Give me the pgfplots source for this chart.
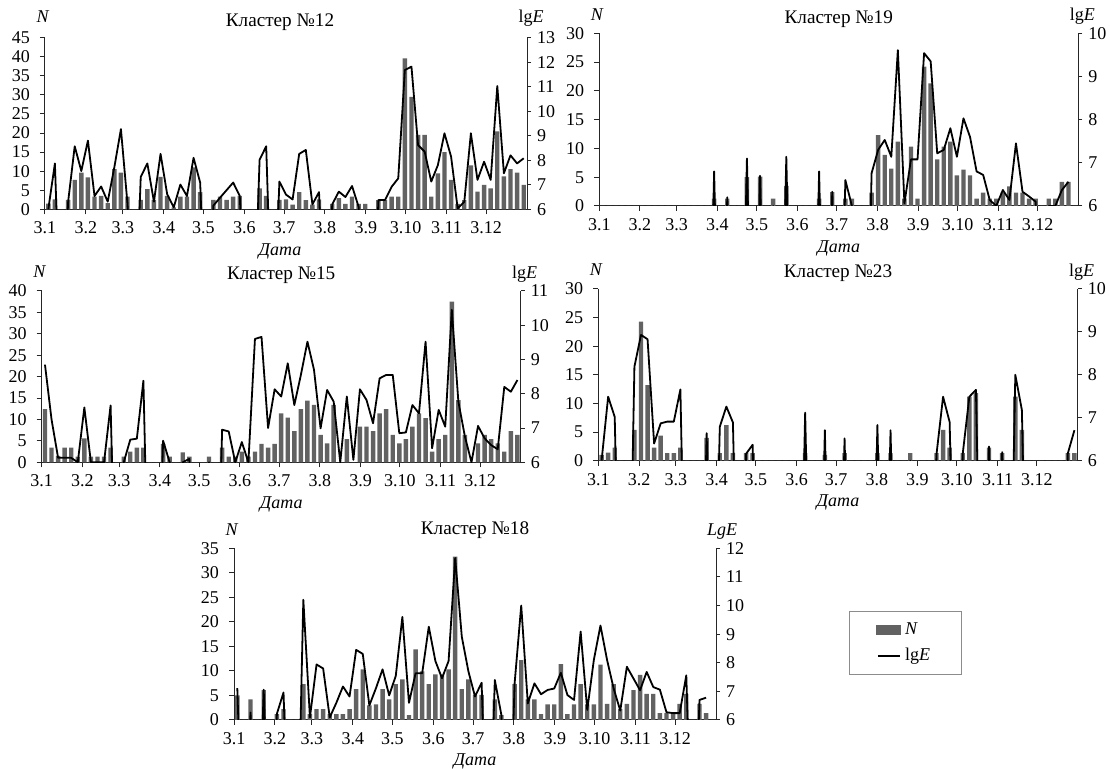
\documentclass[border=0pt]{standalone}
\usepackage{fontspec}
\setmainfont{Liberation Serif}
\usepackage{pgfplots}
\usepackage{pgfplotstable}
\pgfplotsset{compat=1.18}

\definecolor{barc}{RGB}{98,98,98}
\newcommand{\tk}{\fontsize{9}{10.8}\selectfont}
\newcommand{\tf}{\fontsize{9.6}{11}\selectfont}

% j = pentad index (5 days), N = number of events, E = lgE (0 = no events)
\pgfplotstableread{
j N E
0 1.5 6.0
1 2.6 7.87
2 0 0
3 2.5 6.3
4 7.7 8.57
5 9.6 7.56
6 8.4 8.8
7 3.3 6.54
8 3.5 6.93
9 1.6 6.31
10 10.5 7.71
11 9.6 9.27
12 3.3 6.2
13 0 0
14 2.5 7.32
15 5.3 7.87
16 2.5 6.31
17 8.5 8.26
18 3.5 6.62
19 0.5 6.08
20 3.3 7.01
21 3.3 6.54
22 11 8.1
23 4.5 7.09
24 0 0
25 2.5 6.15
26 3.3 6.47
27 2.5 6.78
28 3.3 7.09
29 3.5 6.54
30 0 0
31 0 0
32 5.5 8.02
33 3.5 8.57
34 0 0
35 2.5 7.13
36 2.6 6.6
37 1.2 6.4
38 4.5 8.26
39 2.4 8.42
40 1.2 6.2
41 2.6 6.7
42 0 0
43 1.4 6.2
44 2.9 6.72
45 1.4 6.5
46 3.3 6.95
47 1.4 6.1
48 1.4 0
49 0 0
50 2.4 6.38
51 2.4 6.38
52 3.3 6.92
53 3.3 7.26
54 39.6 11.68
55 29.5 11.82
56 19.5 8.62
57 19.5 8.35
58 3.3 7.13
59 9.4 7.8
60 15 9.1
61 7.7 8.15
62 1.4 6.04
63 2.4 6.3
64 11.5 9.1
65 4.6 7.2
66 6.4 7.94
67 5.5 7.2
68 20.4 11.03
69 8.6 7.47
70 10.5 8.2
71 9.6 7.87
72 6.4 8.08
}\tA

\pgfplotstableread{
j N E
0 0 0
1 0 0
2 0 0
3 0 0
4 0 0
5 0 0
6 0 0
7 0 0
8 0 0
9 0 0
10 0 0
11 0 0
12 0 0
13 0 0
14 0 0
15 0 0
16 0 0
17 1.3 6.8
18 0 0
19 1.3 6.2
20 0 0
21 0 0
22 5 7.1
23 0 0
24 5.1 6.7
25 0 0
26 1.3 6.0
27 0 0
28 3.5 7.14
29 0 0
30 0 0
31 0 0
32 0 0
33 1.3 6.8
34 0 0
35 2.4 6.33
36 0 0
37 1.3 6.6
38 1.3 6.0
39 0 0
40 0 0
41 2.3 6.76
42 12.3 7.3
43 8.9 7.53
44 6.5 7.14
45 11.2 9.61
46 1.3 6.06
47 10.3 7.08
48 1.3 7.08
49 24.2 9.54
50 21.3 9.35
51 8.1 7.22
52 10.3 7.3
53 11.2 7.8
54 5.3 7.14
55 6.3 8.03
56 5.3 7.6
57 1.3 6.8
58 2.3 6.72
59 1.3 6.14
60 1.3 6.0
61 2.3 6.37
62 3.4 6.14
63 2.3 7.45
64 2.3 6.33
65 1.3 6.22
66 1.3 6.1
67 0 0
68 1.3 6.0
69 1.3 6.0
70 4.2 6.37
71 4.2 6.56
72 0 nan
}\tB

\pgfplotstableread{
j N E
0 12.4 8.85
1 3.4 7.25
2 1.5 6.13
3 3.4 6.13
4 3.4 6.13
5 1.3 6.0
6 5.6 7.6
7 1.3 6.0
8 1.3 6.0
9 1.3 6.0
10 3.4 7.66
11 0 0
12 1.3 6.0
13 2.5 6.66
14 3.4 6.69
15 3.4 8.38
16 0 0
17 0 0
18 4.3 6.63
19 1.3 6.0
20 0 0
21 2.3 6.0
22 1.3 6.1
23 0 0
24 0 0
25 1.3 6.0
26 0 0
27 3.4 6.95
28 1.3 6.9
29 1.3 6.0
30 2.5 6.59
31 1.3 6.0
32 2.5 9.6
33 4.3 9.66
34 3.4 7.0
35 4.3 8.13
36 11.4 7.92
37 10.4 8.89
38 7.3 7.67
39 12.4 8.55
40 14.4 9.52
41 13.4 8.7
42 6.4 6.99
43 4.4 8.11
44 13.4 7.77
45 0 6.0
46 5.4 7.92
47 0 6.07
48 8.3 8.13
49 8.3 7.82
50 7.3 7.14
51 11.4 8.45
52 12.4 8.55
53 6.4 8.55
54 4.4 6.85
55 5.4 6.87
56 8.3 7.67
57 11.4 7.43
58 10.3 9.52
59 2.5 6.41
60 5.4 7.53
61 6.4 7.04
62 37.5 10.45
63 14.5 7.77
64 6.4 6.75
65 0 6.0
66 4.4 7.06
67 6.4 6.7
68 5.4 6.5
69 4.4 6.38
70 2.5 8.2
71 7.3 8.06
72 6.4 8.4
}\tC

\pgfplotstableread{
j N E
0 1.0 6.0
1 1.4 7.49
2 2.3 7.02
3 0 0
4 0 0
5 5.4 8.19
6 24.3 8.93
7 13.2 8.83
8 2.3 6.4
9 4.4 6.87
10 1.3 6.91
11 1.3 6.91
12 2.3 7.66
13 0 0
14 0 0
15 0 0
16 4.0 6.64
17 0 0
18 1.3 6.79
19 6.2 7.26
20 1.3 6.89
21 0 0
22 1.3 6.16
23 1.3 6.37
24 0 0
25 0 0
26 0 0
27 0 0
28 0 0
29 0 0
30 0 0
31 1.3 7.12
32 0 0
33 0 0
34 1.0 6.71
35 0 0
36 0 0
37 1.3 6.52
38 0 0
39 0 0
40 0 0
41 0 0
42 1.3 6.83
43 0 0
44 1.3 6.71
45 0 0
46 0 0
47 1.3 6.0
48 0 0
49 0 0
50 0 0
51 1.3 6.15
52 5.4 7.49
53 2.3 6.9
54 0 0
55 1.3 6.17
56 11.2 7.49
57 11.8 7.65
58 0 0
59 2.3 6.33
60 0 0
61 1.3 6.2
62 0 0
63 11.2 8.0
64 5.4 7.18
65 0 0
66 0 0
67 0 0
68 0 0
69 0 0
70 0 0
71 1.3 6.17
72 1.3 6.71
}\tD

\pgfplotstableread{
j N E
0 5.0 7.11
1 0 0
2 4.2 6.26
3 0 0
4 6.1 7.06
5 0 0
6 1.2 6.22
7 2.2 6.96
8 0 0
9 0 0
10 7.3 10.2
11 1.2 6.09
12 2.2 7.94
13 2.2 7.8
14 1.2 6.09
15 1.2 6.6
16 1.2 7.17
17 2.2 6.82
18 6.3 8.45
19 10.3 8.31
20 3.0 6.51
21 3.2 7.11
22 6.3 7.77
23 4.2 6.86
24 7.3 7.54
25 8.3 9.6
26 1.0 6.6
27 14.4 7.63
28 9.9 7.63
29 7.3 9.26
30 9.3 8.06
31 9.3 7.46
32 10.3 8.06
33 33.3 11.66
34 6.3 8.91
35 8.3 7.7
36 5.1 6.82
37 5.1 7.3
38 0 0
39 4.2 7.4
40 1.0 6.17
41 0 0
42 7.3 7.28
43 12.2 10.0
44 4.2 6.58
45 4.2 7.28
46 1.2 6.9
47 3.2 7.05
48 3.2 7.1
49 11.4 7.65
50 1.2 6.87
51 3.2 6.7
52 7.3 9.09
53 3.2 6.35
54 3.2 8.1
55 11.3 9.3
56 3.3 8.1
57 7.3 7.1
58 2.2 6.33
59 3.3 7.86
60 6.1 7.45
61 9.2 7.04
62 5.3 7.68
63 5.3 7.15
64 1.4 7.06
65 1.4 6.27
66 1.4 6.24
67 3.3 6.24
68 5.3 7.56
69 0 0
70 3.3 6.7
71 1.4 6.78
72 0 nan
}\tE

\pgfplotsset{
  base/.style={scale only axis, xmin=0, xmax=365,
    axis line style={line width=0.5pt, black!85},
    tick style={line width=0.5pt, black!85},
    major tick length=2.5pt, tick align=outside,
    ticklabel style={font=\tk},
    /pgf/number format/assume math mode=true, clip=true},
  leftax/.style={base, axis x line*=bottom, axis y line*=left,
    ymin=0, ytick distance=5,
    xtick={0,31,59,90,120,151,181,212,243,273,304,334},
    xticklabels={3.1,3.2,3.3,3.4,3.5,3.6,3.7,3.8,3.9,3.10,3.11,3.12},
    xticklabel style={inner sep=0pt, yshift=-3.5pt},
    yticklabel style={xshift=-1.5pt}},
  rightax/.style={base, axis x line=none, axis y line*=right,
    ymin=6, ytick distance=1, major tick length=2pt,
    yticklabel style={xshift=-0.5pt}},
  bars/.style={ybar, bar width=2.2pt, fill=barc, draw=none},
  eline/.style={black, line width=0.9pt, mark=none, line join=round},
}
\tikzset{dlab/.style={font=\tk, inner sep=0pt}}

\begin{document}
\begin{tikzpicture}
\useasboundingbox (0,0) rectangle (555pt,384.5pt);

% Cluster 12
\begin{axis}[leftax, name=a1, at={(22.5pt,279.85pt)}, anchor=south west,
  width=241pt, height=85.8pt, ymax=45]
\addplot[bars] table[x expr=5*\thisrow{j}+2.5, y=N] {\tA};
\end{axis}
\begin{axis}[rightax, at={(22.5pt,279.85pt)}, anchor=south west,
  width=241pt, height=85.8pt, ymax=13]
\addplot[eline] table[x expr=5*\thisrow{j}+2.5, y=E] {\tA};
\end{axis}
\node[font=\tf] at ([xshift=-3pt,yshift=8pt]a1.north) {Кластер №12};
\node[font=\tk] at ([xshift=-1pt,yshift=10.5pt]a1.north west) {\textit{N}};
\node[font=\tk] at ([xshift=2pt,yshift=9.5pt]a1.north east) {lg\textit{E}};
\node[dlab] at ([xshift=-3pt,yshift=-21pt]a1.south) {\textit{Дата}};

% Cluster 19
\begin{axis}[leftax, name=a2, at={(299.65pt,281.5pt)}, anchor=south west,
  width=239.5pt, height=86.35pt, ymax=30]
\addplot[bars] table[x expr=5*\thisrow{j}+2.5, y=N] {\tB};
\end{axis}
\begin{axis}[rightax, at={(299.65pt,281.5pt)}, anchor=south west,
  width=239.5pt, height=86.35pt, ymax=10]
\addplot[eline] table[x expr=5*\thisrow{j}+2.5, y=E] {\tB};
\end{axis}
\node[font=\tf] at ([yshift=7pt]a2.north) {Кластер №19};
\node[font=\tk] at ([xshift=-1pt,yshift=9.5pt]a2.north west) {\textit{N}};
\node[font=\tk] at ([xshift=2pt,yshift=8.5pt]a2.north east) {lg\textit{E}};
\node[dlab] at ([yshift=-21pt]a2.south) {\textit{Дата}};

% Cluster 15
\begin{axis}[leftax, name=a3, at={(20.85pt,153.35pt)}, anchor=south west,
  width=239.5pt, height=85.65pt, ymax=40]
\addplot[bars] table[x expr=5*\thisrow{j}+2.5, y=N] {\tC};
\end{axis}
\begin{axis}[rightax, at={(20.85pt,153.35pt)}, anchor=south west,
  width=239.5pt, height=85.65pt, ymax=11]
\addplot[eline] table[x expr=5*\thisrow{j}+2.5, y=E] {\tC};
\end{axis}
\node[font=\tf] at ([yshift=8pt]a3.north) {Кластер №15};
\node[font=\tk] at ([xshift=-1pt,yshift=9.5pt]a3.north west) {\textit{N}};
\node[font=\tk] at ([xshift=2pt,yshift=8.5pt]a3.north east) {lg\textit{E}};
\node[dlab] at ([yshift=-21pt]a3.south) {\textit{Дата}};

% Cluster 23
\begin{axis}[leftax, name=a4, at={(299.15pt,154.15pt)}, anchor=south west,
  width=239.7pt, height=85.85pt, ymax=30]
\addplot[bars] table[x expr=5*\thisrow{j}+2.5, y=N] {\tD};
\end{axis}
\begin{axis}[rightax, at={(299.15pt,154.15pt)}, anchor=south west,
  width=239.7pt, height=85.85pt, ymax=10]
\addplot[eline] table[x expr=5*\thisrow{j}+2.5, y=E] {\tD};
\end{axis}
\node[font=\tf] at ([yshift=8pt]a4.north) {Кластер №23};
\node[font=\tk] at ([xshift=-1pt,yshift=9.5pt]a4.north west) {\textit{N}};
\node[font=\tk] at ([xshift=2pt,yshift=8.5pt]a4.north east) {lg\textit{E}};
\node[dlab] at ([yshift=-21pt]a4.south) {\textit{Дата}};

% Cluster 18
\begin{axis}[leftax, name=a5, at={(117pt,24.5pt)}, anchor=south west,
  width=241pt, height=85.85pt, ymax=35]
\addplot[bars] table[x expr=5*\thisrow{j}+2.5, y=N] {\tE};
\end{axis}
\begin{axis}[rightax, at={(117pt,24.5pt)}, anchor=south west,
  width=241pt, height=85.85pt, ymax=12,
  legend style={at={(1.276,0.635)}, anchor=north west, draw=black!45,
    line width=0.4pt, font=\tk, inner xsep=13.5pt, inner ysep=3.5pt,
    row sep=1.5pt, cells={anchor=west}}]
\addplot[eline, forget plot] table[x expr=5*\thisrow{j}+2.5, y=E] {\tE};
\addlegendimage{legend image code/.code={\fill[barc] (0pt,-2.3pt) rectangle (12pt,2.3pt);}}
\addlegendentry{\textit{N}}
\addlegendimage{legend image code/.code={\draw[black, line width=0.8pt] (0.5pt,0pt) -- (11.5pt,0pt);}}
\addlegendentry{lg\textit{E}}
\end{axis}
\node[font=\tf] at ([yshift=9pt]a5.north) {Кластер №18};
\node[font=\tk] at ([xshift=-1pt,yshift=9.5pt]a5.north west) {\textit{N}};
\node[font=\tk] at ([xshift=3pt,yshift=8.5pt]a5.north east) {\textit{LgE}};
\node[dlab] at ([yshift=-20.5pt]a5.south) {\textit{Дата}};
\end{tikzpicture}
\end{document}
